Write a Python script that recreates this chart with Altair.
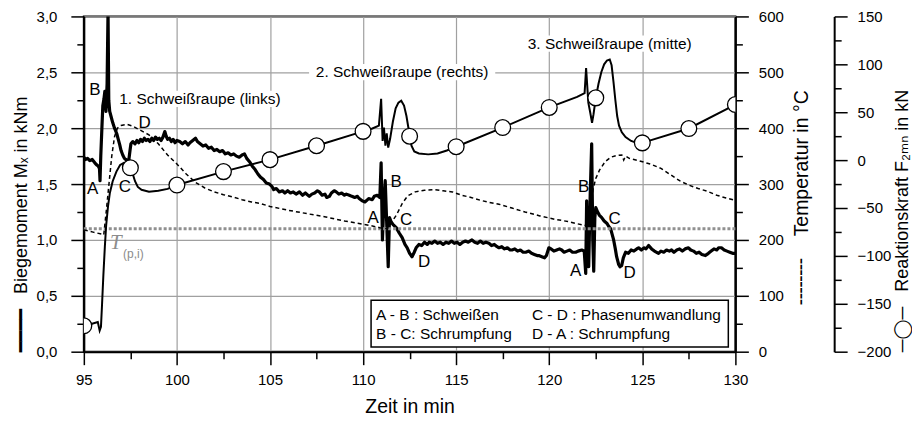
import altair as alt
import pandas as pd

# ---------------- data ----------------
# bending moment Mx in kNm over time in min
m_t = [95.00, 95.10, 95.20, 95.32, 95.45, 95.59, 95.70, 95.78, 95.84, 95.87, 95.91, 95.97, 96.02, 96.08, 96.13,
       96.19, 96.25, 96.30, 96.34, 96.39, 96.47, 96.55, 96.65, 96.77, 96.85, 96.93, 97.00, 97.09, 97.18, 97.25,
       97.35, 97.42, 97.48, 97.53, 97.63, 97.75, 97.85, 97.95, 98.05, 98.15, 98.25, 98.35, 98.45, 98.55, 98.65,
       98.75, 98.85, 98.95, 99.05, 99.15, 99.25, 99.35, 99.42, 99.50, 99.60, 99.70, 99.80, 99.90, 100.00, 100.15,
       100.30, 100.45, 100.60, 100.70, 100.85, 101.00, 101.10, 101.25, 101.40, 101.55, 101.70, 101.85, 102.00,
       102.15, 102.30, 102.45, 102.60, 102.75, 102.90, 103.05, 103.20, 103.35, 103.50, 103.63, 103.75, 103.90,
       104.05, 104.20, 104.35, 104.50, 104.65, 104.80, 104.97, 105.10, 105.20, 105.34, 105.50, 105.67, 105.80,
       105.95, 106.10, 106.25, 106.40, 106.58, 106.75, 106.90, 107.11, 107.25, 107.40, 107.55, 107.65, 107.80,
       107.95, 108.05, 108.19, 108.30, 108.45, 108.56, 108.70, 108.85, 109.00, 109.10, 109.26, 109.40, 109.55,
       109.70, 109.79, 109.95, 110.10, 110.17, 110.30, 110.49, 110.60, 110.76, 110.90, 110.97, 111.04, 111.12,
       111.19, 111.27, 111.35, 111.42, 111.51, 111.60, 111.78, 111.95, 112.10, 112.25, 112.37, 112.50, 112.63,
       112.75, 112.85, 113.00, 113.15, 113.30, 113.45, 113.55, 113.70, 113.85, 114.00, 114.15, 114.30, 114.45,
       114.60, 114.75, 114.90, 115.05, 115.20, 115.35, 115.50, 115.65, 115.85, 116.00, 116.15, 116.30, 116.45,
       116.60, 116.76, 116.90, 117.05, 117.20, 117.30, 117.45, 117.60, 117.75, 117.90, 118.00, 118.15, 118.30,
       118.45, 118.60, 118.74, 118.90, 119.05, 119.20, 119.35, 119.44, 119.60, 119.75, 119.85, 119.98, 120.10,
       120.25, 120.40, 120.55, 120.67, 120.80, 120.95, 121.10, 121.25, 121.42, 121.55, 121.75, 121.88, 121.96,
       122.01, 122.06, 122.12, 122.20, 122.28, 122.34, 122.39, 122.45, 122.50, 122.60, 122.70, 122.82, 122.95,
       123.09, 123.20, 123.30, 123.38, 123.46, 123.55, 123.62, 123.73, 123.80, 123.89, 123.98, 124.10, 124.25,
       124.40, 124.55, 124.70, 124.80, 124.95, 125.10, 125.20, 125.34, 125.50, 125.65, 125.87, 126.00, 126.15,
       126.30, 126.45, 126.57, 126.70, 126.85, 127.00, 127.15, 127.30, 127.48, 127.60, 127.75, 127.90, 128.05,
       128.20, 128.39, 128.55, 128.70, 128.85, 129.00, 129.10, 129.25, 129.40, 129.55, 129.70, 129.85, 130.00]
m_v = [1.74, 1.72, 1.73, 1.71, 1.72, 1.69, 1.67, 1.66, 1.64, 1.53, 1.75, 2.00, 2.20, 2.26, 2.33,
       2.15, 2.40, 3.05, 2.25, 2.15, 2.10, 2.05, 2.00, 1.95, 1.90, 1.85, 1.80, 1.76, 1.73, 1.72,
       1.71, 1.72, 1.80, 1.86, 1.88, 1.86, 1.89, 1.87, 1.90, 1.88, 1.91, 1.89, 1.90, 1.88, 1.91,
       1.89, 1.92, 1.90, 1.91, 1.89, 1.92, 1.97, 1.93, 1.90, 1.91, 1.88, 1.90, 1.87, 1.89, 1.88,
       1.86, 1.88, 1.85, 1.87, 1.89, 1.91, 1.88, 1.86, 1.84, 1.85, 1.82, 1.83, 1.80,
       1.81, 1.79, 1.80, 1.77, 1.78, 1.76, 1.77, 1.75, 1.74, 1.76, 1.77, 1.73, 1.70,
       1.66, 1.63, 1.59, 1.56, 1.54, 1.51, 1.50, 1.48, 1.45, 1.46, 1.43, 1.44, 1.42,
       1.44, 1.42, 1.43, 1.41, 1.43, 1.40, 1.42, 1.39, 1.41, 1.42, 1.44, 1.43, 1.40,
       1.41, 1.38, 1.39, 1.42, 1.44, 1.43, 1.41, 1.42, 1.40, 1.41, 1.40, 1.39, 1.38,
       1.39, 1.37, 1.35, 1.34, 1.35, 1.37, 1.36, 1.39, 1.40, 1.38, 1.69, 1.00, 1.35,
       1.53, 1.15, 0.76, 1.20, 1.16, 1.14, 1.11, 1.06, 1.02, 0.96, 0.93, 0.88, 0.85,
       0.89, 0.93, 0.96, 0.95, 0.98, 0.96, 0.98, 0.97, 0.99, 0.97, 0.98, 0.96, 0.98,
       0.97, 0.99, 0.97, 0.98, 0.96, 0.98, 0.99, 0.98, 1.00, 0.98, 0.97, 0.99, 0.97,
       0.98, 0.97, 0.95, 0.96, 0.94, 0.93, 0.94, 0.92, 0.93, 0.91, 0.91, 0.92, 0.90,
       0.91, 0.89, 0.89, 0.90, 0.88, 0.87, 0.86, 0.86, 0.85, 0.84, 0.86, 0.93, 0.92,
       0.90, 0.91, 0.92, 0.91, 0.89, 0.90, 0.91, 0.89, 0.89, 0.90, 0.91, 0.90, 0.70,
       1.35, 0.85, 0.76, 1.40, 1.86, 1.00, 0.72, 1.20, 1.29, 1.25, 1.22, 1.20, 1.17,
       1.15, 1.12, 1.10, 1.05, 1.00, 0.92, 0.85, 0.78, 0.76, 0.77, 0.84, 0.89, 0.88,
       0.91, 0.90, 0.92, 0.93, 0.91, 0.93, 0.92, 0.95, 0.92, 0.90, 0.88, 0.90, 0.89,
       0.91, 0.90, 0.91, 0.89, 0.91, 0.92, 0.90, 0.92, 0.93, 0.91, 0.90, 0.88, 0.89,
       0.87, 0.86, 0.88, 0.90, 0.92, 0.91, 0.93, 0.93, 0.91, 0.90, 0.89, 0.88, 0.88]

# temperature in degC
temp_t = [95.0, 95.5, 96.0, 96.07, 96.2, 96.35, 96.5, 96.65, 96.8, 97.0, 97.3, 97.6, 98.0, 98.5, 99.0, 99.5,
          100.0, 100.5, 101.0, 101.5, 102.0, 102.5, 103.0, 103.5, 104.0, 104.5, 105.0, 106.0, 107.0, 108.0,
          109.0, 110.0, 110.5, 110.9, 111.3, 111.6, 111.8, 112.1, 112.4, 112.8, 113.3, 113.8, 114.3, 114.8,
          115.3, 115.8, 116.3, 116.8, 117.3, 118.0, 118.7, 119.5, 120.3, 121.0, 121.5, 121.95, 122.2, 122.35,
          122.5, 122.7, 123.0, 123.3, 123.6, 123.9, 124.0, 124.1, 124.3, 124.8, 125.5, 126.0, 126.5, 127.0,
          127.5, 128.0, 128.5, 129.0, 129.5, 130.0]
temp_v = [218, 214, 210, 209, 250, 300, 350, 385, 400, 405, 407, 404, 397, 388, 372, 352,
          336, 318, 303, 293, 286, 281, 277, 272, 268, 265, 260, 253, 247, 241,
          234, 228, 225, 222, 220, 235, 245, 265, 279, 286, 289, 290, 288, 286,
          280, 276, 271, 267, 264, 257, 250, 243, 237, 233, 229, 226, 250, 290,
          310, 325, 340, 348, 351, 352, 343, 350, 346, 342, 335, 328, 317, 306,
          298, 292, 287, 280, 275, 271]

# reaction force F2MN in kN
f_t = [95.0, 95.4, 95.75, 95.85, 95.92, 95.98, 96.05, 96.13, 96.2, 96.3, 96.4, 96.55, 96.75, 96.95, 97.15,
       97.35, 97.5, 97.62, 97.75, 97.9, 98.1, 98.5, 99.0, 99.5, 100.0, 102.5, 105.0, 107.5, 110.0, 110.5,
       110.85, 110.97, 111.05, 111.12, 111.2, 111.27, 111.35, 111.45, 111.6, 111.75, 111.9, 112.05, 112.2,
       112.33, 112.45, 112.5, 112.6, 112.75, 113.0, 113.5, 114.0, 114.5, 115.0, 117.5, 120.0, 121.5, 121.9,
       121.98, 122.1, 122.2, 122.3, 122.38, 122.5, 122.65, 122.8, 122.95, 123.1, 123.25, 123.35, 123.45,
       123.55, 123.65, 123.75, 123.9, 124.1, 124.4, 124.7, 125.0, 127.5, 130.0]
f_v = [-173, -171, -169, -178, -174, -150, -120, -90, -68, -48, -34, -22, -12, -5, -3,
       -5, -8, -14, -22, -28, -31, -33, -32, -30, -26, -12, 0.5, 15, 30, 33,
       36, 64, 20, 34, 15, 28, 13, 22, 40, 54, 60, 62, 57,
       46, 32, 25, 15, 9, 7, 6, 7, 10, 14, 34, 55, 66, 70,
       96, 60, 50, 39, 48, 65, 80, 92, 100, 104, 105, 99, 82,
       63, 46, 36, 29, 24, 20, 18, 18, 33, 58]

# circle markers of the force curve (every 2.5 min)
fc_t = [95.0, 97.5, 100.0, 102.5, 105.0, 107.5, 110.0, 112.5, 115.0, 117.5, 120.0, 122.5, 125.0, 127.5, 130.0]
fc_v = [-173, -8, -26, -12, 0.5, 15, 30, 25, 14, 34, 55, 65, 18, 33, 58]

# T(p,i) reference temperature
tpi_v = [220]

# annotation labels (text, time, moment)
ann_text = ["B", "A", "C", "D", "B", "A", "C", "D", "B", "A", "C", "D"]
ann_t = [95.59, 95.48, 97.20, 98.27, 111.78, 110.54, 112.31, 113.28, 121.85, 121.42, 123.51, 124.32]
ann_m = [2.34, 1.46, 1.47, 2.05, 1.515, 1.20, 1.175, 0.80, 1.47, 0.72, 1.19, 0.70]

bead_text = ["1. Schweißraupe (links)", "2. Schweißraupe (rechts)", "3. Schweißraupe (mitte)"]
bead_t = [101.24, 112.10, 123.25]
bead_m = [2.265, 2.50, 2.756]
bead_t0 = [96.70, 107.10, 118.55]
bead_t1 = [105.80, 117.10, 127.95]
bead_m0 = [2.19, 2.43, 2.685]
bead_m1 = [2.335, 2.575, 2.83]

leg_text = ["A - B : Schweißen", "B - C: Schrumpfung", "C - D : Phasenumwandlung", "D - A : Schrumpfung"]
leg_t = [110.70, 110.70, 119.07, 119.07]
leg_m = [0.327, 0.158, 0.327, 0.158]
leg_box = {"t0": [110.43], "t1": [129.62], "M0": [0.042], "M1": [0.46]}

# ---------------- tables ----------------
df_m = pd.DataFrame({"t": m_t, "M": m_v})
df_T = pd.DataFrame({"t": temp_t, "T": temp_v})
df_F = pd.DataFrame({"t": f_t, "F": f_v})
df_Fc = pd.DataFrame({"t": fc_t, "F": fc_v})
df_tpi = pd.DataFrame({"T": tpi_v})
df_ann = pd.DataFrame({"t": ann_t, "M": ann_m, "label": ann_text})
df_bead = pd.DataFrame({"t": bead_t, "M": bead_m, "label": bead_text,
                        "t0": bead_t0, "t1": bead_t1, "M0": bead_m0, "M1": bead_m1})
df_leg = pd.DataFrame({"t": leg_t, "M": leg_m, "label": leg_text})
df_box = pd.DataFrame(leg_box)
df_tlab = pd.DataFrame({"t": [96.72], "M": [0.975], "label": ["T"]})
df_tsub = pd.DataFrame({"t": [97.66], "M": [0.875], "label": ["(p,i)"]})

FONT = "Liberation Sans"
TFONT = "Liberation Sans, DejaVu Sans"
NB = "\u00a0"

# ---------------- encodings ----------------
x_vals = [95 + 2.5 * i for i in range(15)]
x_axis = alt.Axis(
    values=x_vals, title="Zeit in min",
    labelExpr="datum.value % 5 === 0 ? format(datum.value, 'd') : ''",
    tickSize={"condition": {"test": "datum.value % 5 === 0", "value": 13}, "value": 7},
    gridOpacity={"condition": {"test": "datum.value % 5 === 0 && datum.value > 95 && datum.value < 130",
                               "value": 1}, "value": 0},
    grid=True, labelPadding=8, titlePadding=10, labelFlush=False,
)
x_scale = alt.Scale(domain=[95, 130], nice=False, zero=False)


def X(field="t"):
    return alt.X(f"{field}:Q", scale=x_scale, axis=x_axis)


m_vals = [0.25 * i for i in range(13)]
m_axis = alt.Axis(
    orient="left", values=m_vals,
    title="━━━━" + NB * 3 + "Biegemoment Mₓ in kNm", titleAnchor="start", titleFontSize=18,
    labelExpr="round(datum.value * 4) % 2 === 0 ? replace(format(datum.value, '.1f'), '.', ',') : ''",
    tickSize={"condition": {"test": "round(datum.value * 4) % 2 === 0", "value": 13}, "value": 7},
    gridOpacity={"condition": {"test": "round(datum.value * 4) % 2 === 0", "value": 1}, "value": 0},
    grid=True, labelPadding=14, titlePadding=6, labelFlush=False,
)
m_scale = alt.Scale(domain=[0, 3], nice=False, zero=False)


def YM(field="M"):
    return alt.Y(f"{field}:Q", scale=m_scale, axis=m_axis)


T_axis = alt.Axis(
    orient="right", values=[50 * i for i in range(13)],
    title="╌╌╌╌" + NB * 4 + "Temperatur in °C", titleAngle=270, titleBaseline="top",
    titleY=181,
    labelExpr="datum.value % 100 === 0 ? format(datum.value, 'd') : ''",
    tickSize={"condition": {"test": "datum.value % 100 === 0", "value": 13}, "value": 7},
    grid=False, labelPadding=10, titlePadding=9, labelFlush=False,
)
T_scale = alt.Scale(domain=[0, 600], nice=False, zero=False)


def YT():
    return alt.Y("T:Q", scale=T_scale, axis=T_axis)


F_axis = alt.Axis(
    orient="right", offset=99, values=[-200 + 25 * i for i in range(15)],
    title="─◯─" + NB * 3 + "Reaktionskraft F₂ₘₙ in kN", titleAngle=270, titleBaseline="top",
    titleAnchor="start", titleFontSize=18,
    labelExpr="datum.value % 50 === 0 ? format(datum.value, 'd') : ''",
    tickSize={"condition": {"test": "datum.value % 50 === 0", "value": 13}, "value": 7},
    grid=False, labelPadding=10, titlePadding=3, labelFlush=False,
)
F_scale = alt.Scale(domain=[-200, 150], nice=False, zero=False)


def YF():
    return alt.Y("F:Q", scale=F_scale, axis=F_axis)


# ---------------- moment group ----------------
bead_bg = alt.Chart(df_bead).mark_rect(color="white").encode(
    x=X("t0"), x2="t1", y=YM("M0"), y2="M1")
moment_line = alt.Chart(df_m).mark_line(color="black", strokeWidth=3.2, clip=True,
                                        strokeJoin="round").encode(x=X(), y=YM())
legend_box = alt.Chart(df_box).mark_rect(fill="white", stroke="black", strokeWidth=1.5).encode(
    x=X("t0"), x2="t1", y=YM("M0"), y2="M1")
ann = alt.Chart(df_ann).mark_text(font=FONT, fontSize=17, color="black").encode(
    x=X(), y=YM(), text="label:N")
bead = alt.Chart(df_bead).mark_text(font=FONT, fontSize=15.5, color="black").encode(
    x=X(), y=YM(), text="label:N")
leg = alt.Chart(df_leg).mark_text(font=FONT, fontSize=15.5, color="black", align="left").encode(
    x=X(), y=YM(), text="label:N")
tlab = alt.Chart(df_tlab).mark_text(font="Liberation Serif", fontStyle="italic", fontSize=21,
                                    color="#8c8c8c").encode(x=X(), y=YM(), text="label:N")
tsub = alt.Chart(df_tsub).mark_text(font=FONT, fontSize=12, color="#8c8c8c").encode(
    x=X(), y=YM(), text="label:N")

g_m = alt.layer(bead_bg, moment_line, legend_box, ann, bead, leg, tlab, tsub)

# ---------------- temperature group ----------------
tpi_rule = alt.Chart(df_tpi).mark_rule(color="#909090", strokeWidth=3, strokeDash=[3, 2]).encode(y=YT())
temp_line = alt.Chart(df_T).mark_line(color="black", strokeWidth=1.5, strokeDash=[4, 3],
                                      clip=True).encode(x=X(), y=YT())
g_T = alt.layer(tpi_rule, temp_line)

# ---------------- force group ----------------
force_line = alt.Chart(df_F).mark_line(color="black", strokeWidth=2, clip=True).encode(x=X(), y=YF())
force_pts = alt.Chart(df_Fc).mark_point(shape="circle", filled=True, fill="white", stroke="black",
                                        strokeWidth=1.3, size=250, opacity=1, clip=True).encode(
    x=X(), y=YF())
g_F = alt.layer(force_line, force_pts)

chart = alt.layer(g_m, g_T, g_F).resolve_scale(y="independent").properties(
    width=653, height=336,
    padding={"left": 4, "top": 1, "right": 0, "bottom": 0},
).configure_view(
    stroke="black", strokeWidth=2
).configure_axis(
    labelFont=FONT, labelFontSize=15, labelColor="black",
    titleFont=TFONT, titleFontSize=19.5, titleFontWeight="normal", titleColor="black",
    domainColor="black", domainWidth=2, tickColor="black", tickWidth=1.5,
    gridColor="#a0a0a0", gridWidth=1.2,
)

chart.save("out.html", embed_options={"renderer": "svg", "actions": False})
